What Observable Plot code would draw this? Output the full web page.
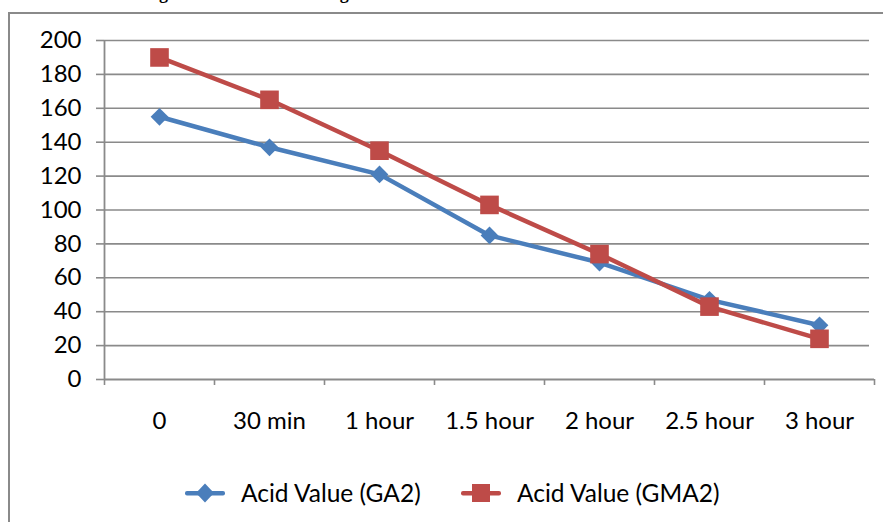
<!DOCTYPE html>
<html><head><meta charset="utf-8">
<script src="https://cdn.jsdelivr.net/npm/d3@7"></script>
<script src="https://cdn.jsdelivr.net/npm/@observablehq/plot@0.6"></script>
<style>
body{margin:0;background:#fff;width:883px;height:522px;overflow:hidden;position:relative;font-family:Lato,"Open Sans",sans-serif;}
#title{position:absolute;left:143px;top:-17px;font-family:"Liberation Serif",serif;font-weight:bold;font-size:18px;white-space:nowrap;color:#000;}
#frame{position:absolute;left:8px;top:12px;width:900px;height:540px;border:2px solid #8a8a8a;box-sizing:border-box;}
#chart{position:absolute;left:0;top:0;}
#legend{position:absolute;top:478px;left:0;width:883px;font-size:24.5px;color:#000;}
.lg{position:absolute;display:flex;align-items:center;white-space:nowrap;}
</style></head>
<body>
<div id="title">Figure 4: Acid value change in reactor</div>
<div id="frame"></div>
<div id="chart"></div>
<div id="legend"></div>
<script>
const categories = ["0", "30 min", "1 hour", "1.5 hour", "2 hour", "2.5 hour", "3 hour"];
const ga2 = [155, 137, 121, 85, 69, 47, 32];
const gma2 = [190, 165, 135, 103, 74, 43, 24];
const yTicks = [0, 20, 40, 60, 80, 100, 120, 140, 160, 180, 200];
const seriesNames = ["Acid Value (GA2)", "Acid Value (GMA2)"];
const colors = ["#4A7EBB", "#BE4B48"];

const rows = [];
categories.forEach((c, i) => {
  rows.push({i, cat: c, v: ga2[i], s: seriesNames[0]});
});
categories.forEach((c, i) => {
  rows.push({i, cat: c, v: gma2[i], s: seriesNames[1]});
});
const boundaries = d3.range(categories.length + 1).map(k => k - 0.5);
const centers = d3.range(categories.length);

const plot = Plot.plot({
  width: 883,
  height: 445,
  marginLeft: 104,
  marginRight: 9,
  marginTop: 40,
  marginBottom: 66,
  style: {background: "transparent", fontFamily: "Lato, 'Open Sans', sans-serif", fontSize: "24px", color: "#000"},
  x: {domain: [-0.5, categories.length - 0.5]},
  y: {domain: [0, 200]},
  marks: [
    Plot.ruleY(yTicks.filter(t => t > 0), {y: d => d, stroke: "#8a8a8a", strokeWidth: 1.6, insetRight: 5}),
    Plot.axisY({ticks: yTicks, tickSize: 8, tickPadding: 15, stroke: "#8a8a8a", strokeWidth: 1.6, label: null, fontSize: 24, fill: "#000"}),
    Plot.axisX({ticks: boundaries, tickSize: 6, tickFormat: () => "", stroke: "#8a8a8a", strokeWidth: 1.6, label: null}),
    Plot.axisX({ticks: centers, tickSize: 0, tickPadding: 32, tickFormat: i => categories[i], label: null, fontSize: 24, fill: "#000"}),
    Plot.ruleY([0], {stroke: "#8a8a8a", strokeWidth: 1.8}),
    Plot.ruleX([-0.5], {stroke: "#8a8a8a", strokeWidth: 1.8}),
    Plot.line(rows.filter(r => r.s === seriesNames[0]), {x: "i", y: "v", stroke: colors[0], strokeWidth: 4.5}),
    Plot.dot(rows.filter(r => r.s === seriesNames[0]), {x: "i", y: "v", symbol: "diamond2", r: 8, fill: colors[0], stroke: null}),
    Plot.line(rows.filter(r => r.s === seriesNames[1]), {x: "i", y: "v", stroke: colors[1], strokeWidth: 4.5}),
    Plot.dot(rows.filter(r => r.s === seriesNames[1]), {x: "i", y: "v", symbol: "square", r: 10.5, fill: colors[1], stroke: null})
  ]
});
document.getElementById("chart").appendChild(plot);

// legend
const legend = document.getElementById("legend");
const lefts = [185, 461];
seriesNames.forEach((name, k) => {
  const div = document.createElement("div");
  div.className = "lg";
  div.style.left = lefts[k] + "px";
  const sym = k === 0
    ? `<rect x="0" y="11" width="40" height="4.5" rx="2" fill="${colors[0]}"/><path d="M20,3.5 L29,13 L20,22.5 L11,13Z" fill="${colors[0]}"/>`
    : `<rect x="0" y="11" width="40" height="4.5" rx="2" fill="${colors[1]}"/><rect x="11" y="4" width="18" height="18" fill="${colors[1]}"/>`;
  div.innerHTML = `<svg width="42" height="26">${sym}</svg><span style="margin-left:14px">${name}</span>`;
  legend.appendChild(div);
});
</script>
</body></html>
